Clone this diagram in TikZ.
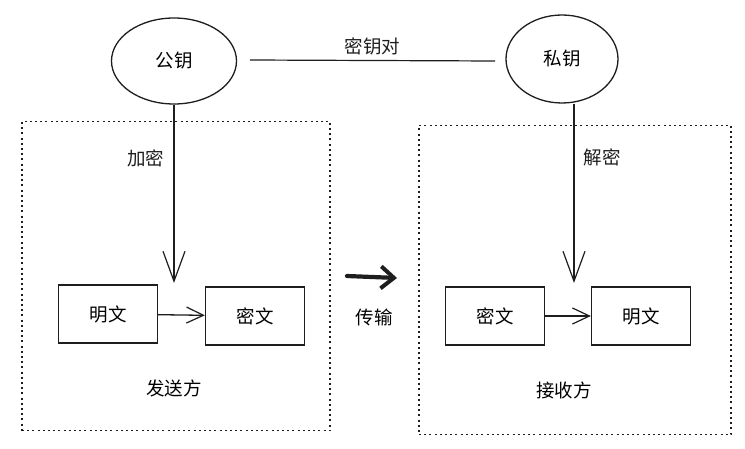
\documentclass[tikz,border=0pt]{standalone}
\usepackage{fontspec}
\usepackage{tikz}
\usepackage{xcolor}
\usetikzlibrary{arrows.meta,positioning,shapes.geometric}
\newfontfamily\cjk{Noto Sans CJK SC}
\definecolor{ink}{HTML}{1E1E1E}
\definecolor{paper}{HTML}{FFFFFF}
\tikzset{
  keyellipse/.style={draw=ink,fill=paper,line width=1.3pt,ellipse,
                     inner sep=0pt,font=\cjk\fontsize{18.5}{21}\selectfont},
  textbox/.style={draw=ink,fill=paper,line width=1.3pt,
                  minimum width=99pt,minimum height=58pt,inner sep=0pt,
                  font=\cjk\fontsize{18.5}{21}\selectfont},
  groupbox/.style={draw=ink,line width=1.1pt,dash pattern=on 2pt off 3.2pt,
                   inner sep=0pt},
  plainlabel/.style={font=\cjk\fontsize{18.5}{21}\selectfont,inner sep=1pt},
  downarr/.style={-{Straight Barb[length=30pt,width=22pt,line width=1.2pt]},
                  line width=1.2pt,color=ink},
  sidearr/.style={-{Straight Barb[length=17pt,width=16pt,line width=1.2pt]},
                  line width=1.3pt,color=ink},
  bigarr/.style={-{Straight Barb[length=13pt,width=22pt,line width=4pt]},
                 line width=4.2pt,color=ink,line cap=round}
}

\begin{document}
\begin{tikzpicture}[x=1pt,y=-1pt]
      \useasboundingbox[fill=paper] (0,0) rectangle (745,449);

      % the two keys
      \node[keyellipse,minimum width=125pt,minimum height=86pt] (pub) at (174,61) {公钥};
      \node[keyellipse,minimum width=112pt,minimum height=88pt] (priv) at (562,59) {私钥};
      \draw[ink,line width=1.2pt] (250,60) -- node[plainlabel,above=4pt] {密钥对} (495,61);

      % sender and receiver
      \node[groupbox,minimum width=308pt,minimum height=309pt] (sender) at (176,276) {};
      \node[groupbox,minimum width=312pt,minimum height=309pt] (receiver) at (575,280) {};

      \node[textbox] (plainA) at (108,314) {明文};
      \node[textbox] (cipherA) at (255,316) {密文};
      \node[textbox] (cipherB) at (495,316) {密文};
      \node[textbox] (plainB) at (641,316) {明文};

      \node[plainlabel] (send) at (174,388) {发送方};
      \node[plainlabel] (recv) at (564,390) {接收方};

      \coordinate (enctip) at (174,283);
      \coordinate (dectip) at (574,283);
      \draw[downarr] (pub.south) -- node[plainlabel,pos=0.3,left=8pt] {加密} (enctip);
      \draw[downarr] (dectip |- priv.south) -- node[plainlabel,pos=0.3,right=8pt] {解密} (dectip);

      \draw[sidearr] (plainA) -- (cipherA);
      \draw[sidearr] (cipherB) -- (plainB);

      % transfer
      \coordinate (sendout) at (347,276);
      \coordinate (recvin) at (397,278);
      \draw[bigarr] (sendout) -- (recvin);
      \node[plainlabel] (trans) at (374,317) {传输};
    \end{tikzpicture}
\end{document}
